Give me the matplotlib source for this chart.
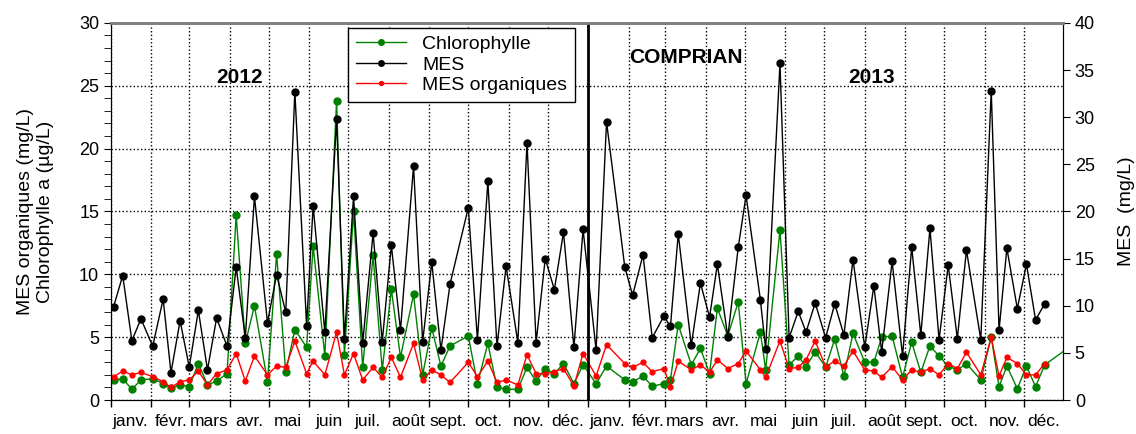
import matplotlib
matplotlib.use('Agg')
import matplotlib.pyplot as plt
import matplotlib.dates as mdates
from matplotlib.ticker import MultipleLocator, FuncFormatter
import pandas as pd

plt.rcParams['font.family'] = ['Liberation Sans', 'DejaVu Sans']

# Sampling dates (weekly-ish), 2012 then 2013
dates_2012 = ['01-03', '01-10', '01-17', '01-24', '02-02', '02-10', '02-16', '02-23',
              '03-01', '03-08', '03-15', '03-22', '03-30', '04-06', '04-13', '04-20',
              '04-30', '05-07', '05-14', '05-21', '05-30', '06-04', '06-13', '06-22',
              '06-28', '07-05', '07-12', '07-20', '07-27', '08-03', '08-10', '08-20',
              '08-27', '09-03', '09-10', '09-17', '10-01', '10-08', '10-16', '10-23',
              '10-30', '11-08', '11-15', '11-22', '11-29', '12-06', '12-13', '12-21',
              '12-28']
dates_2013 = ['01-07', '01-15', '01-29', '02-04', '02-12', '02-19', '02-28', '03-05',
              '03-11', '03-21', '03-28', '04-04', '04-10', '04-18', '04-26', '05-02',
              '05-13', '05-17', '05-28', '06-04', '06-11', '06-17', '06-24', '07-02',
              '07-09', '07-16', '07-23', '08-01', '08-08', '08-14', '08-22', '08-30',
              '09-06', '09-13', '09-20', '09-27', '10-04', '10-11', '10-18', '10-29',
              '11-06', '11-12', '11-18', '11-26', '12-03', '12-10', '12-17']

# MES (mg/L) - right axis
mes = [9.9, 13.2, 6.3, 8.6, 5.7, 10.7, 2.9, 8.4, 3.5, 9.5, 3.2, 8.7, 5.7, 14.1, 6.6, 21.6,
       8.2, 13.3, 9.3, 32.7, 7.9, 20.6, 7.2, 29.8, 6.5, 21.6, 6.0, 17.7, 6.2, 16.4, 7.4, 24.8,
       6.2, 14.6, 5.3, 12.3, 20.4, 6.4, 23.2, 5.7, 14.2, 6.1, 27.3, 6.1, 15.0, 11.7, 17.8, 5.6,
       18.1,
       5.3, 29.5, 14.1, 11.1, 15.4, 6.6, 8.9, 7.8, 17.6, 5.8, 12.4, 8.8, 14.4, 6.7, 16.2, 21.7,
       10.6, 5.4, 35.7, 6.6, 9.4, 7.2, 10.3, 6.6, 10.2, 6.9, 14.9, 5.6, 12.1, 5.1, 14.7, 4.7,
       16.2, 6.9, 18.2, 6.4, 14.3, 6.5, 15.9, 6.4, 32.8, 7.4, 16.1, 9.7, 14.4, 8.5, 10.2]

# Chlorophylle a (ug/L) - left axis, one extra sample early 2014
chl = [1.6, 1.7, 0.85, 1.6, 1.7, 1.3, 0.95, 1.2, 1.06, 2.9, 1.2, 1.5, 2.1, 14.7, 4.5, 7.5,
       1.46, 11.6, 2.2, 5.6, 4.2, 12.25, 3.5, 23.8, 3.6, 15.0, 2.6, 11.5, 2.4, 8.8, 3.4, 8.4,
       2.0, 5.75, 2.7, 4.3, 5.1, 1.3, 4.5, 1.0, 0.85, 0.85, 2.6, 1.5, 2.5, 2.1, 2.9, 1.3,
       2.8,
       1.3, 2.7, 1.6, 1.46, 1.9, 1.1, 1.3, 1.6, 6.0, 2.8, 4.1, 2.1, 7.3, 5.1, 7.8, 1.3,
       5.4, 2.4, 13.5, 2.8, 3.5, 2.65, 3.85, 2.6, 4.85, 1.9, 5.3, 3.0, 3.0, 5.0, 5.1, 1.8,
       4.6, 2.2, 4.3, 3.5, 2.7, 2.4, 2.9, 1.6, 5.0, 1.06, 2.7, 0.9, 2.7, 1.06, 2.8]
chl_extra_date = '2014-01-13'
chl_extra = 4.8

# MES organiques (mg/L) - left axis
mes_org = [1.85, 2.3, 2.0, 2.2, 1.85, 1.46, 1.0, 1.46, 1.6, 2.3, 1.2, 2.1, 2.4, 3.7, 1.5, 3.5,
           2.0, 2.7, 2.6, 4.7, 2.1, 3.1, 2.0, 5.4, 2.0, 3.7, 1.6, 2.6, 1.8, 3.4, 1.8, 4.5,
           1.6, 2.4, 2.0, 1.4, 3.0, 1.85, 3.1, 1.4, 1.6, 1.2, 3.6, 2.1, 2.1, 2.25, 2.5, 1.1,
           3.7,
           1.9, 4.4, 2.9, 2.6, 3.0, 2.25, 2.5, 1.06, 3.1, 2.4, 2.8, 2.2, 3.2, 2.5, 2.9, 3.9,
           2.4, 1.8, 4.7, 2.5, 2.6, 3.2, 4.7, 2.65, 3.1, 2.7, 3.9, 2.4, 2.3, 1.8, 2.65, 1.6,
           2.4, 2.2, 2.5, 2.0, 2.9, 2.5, 3.8, 2.0, 5.0, 1.9, 3.4, 2.9, 2.0, 2.0, 2.9]

mois = ['janv.', 'févr.', 'mars', 'avr.', 'mai', 'juin',
        'juil.', 'août', 'sept.', 'oct.', 'nov.', 'déc.']

dates = pd.to_datetime(['2012-' + d for d in dates_2012] + ['2013-' + d for d in dates_2013])
chl_dates = list(dates) + [pd.Timestamp(chl_extra_date)]
chl_vals = chl + [chl_extra]

fig = plt.figure(figsize=(11.36, 4.34), dpi=100)
ax = fig.add_axes([0.0977, 0.0783, 0.838, 0.869])
ax2 = ax.twinx()

l1, = ax.plot(chl_dates, chl_vals, color='#008000', marker='o', ms=5, lw=1, label='Chlorophylle')
l3, = ax.plot(dates, mes_org, color='#ff0000', marker='o', ms=3.5, lw=1, label='MES organiques')
l2, = ax2.plot(dates, mes, color='black', marker='o', ms=5, lw=1, label='MES')

ax.axvline(pd.Timestamp('2013-01-01'), color='black', lw=2, zorder=5)

ax.set_xlim(pd.Timestamp('2012-01-01'), pd.Timestamp('2013-12-31'))
ax.set_ylim(0, 30)
ax2.set_ylim(0, 40)

# month boundaries as ticks + grid, month names centred in between
ax.xaxis.set_major_locator(mdates.MonthLocator())
ax.xaxis.set_major_formatter(FuncFormatter(lambda x, p: ''))
ax.xaxis.set_minor_locator(mdates.MonthLocator(bymonthday=16))
ax.xaxis.set_minor_formatter(FuncFormatter(lambda x, p: mois[mdates.num2date(x).month - 1]))
ax.tick_params(axis='x', which='major', direction='out', length=5, width=1)
ax.tick_params(axis='x', which='minor', length=0, labelsize=12.5, pad=10)

ax.yaxis.set_major_locator(MultipleLocator(5))
ax.yaxis.set_minor_locator(MultipleLocator(1))
ax.tick_params(axis='y', which='both', direction='out', length=5, labelsize=13)
ax2.yaxis.set_major_locator(MultipleLocator(5))
ax2.tick_params(axis='y', direction='out', length=5, labelsize=13)

ax.grid(True, which='major', axis='both', linestyle=':', color='black', lw=1)

for a in (ax, ax2):
    a.spines['top'].set_color('#808080')
    a.spines['top'].set_linewidth(2)

ax.set_ylabel('MES organiques (mg/L)\nChlorophylle a (µg/L)', fontsize=14, labelpad=18)
ax2.set_ylabel('MES  (mg/L)', fontsize=14, labelpad=17)

ax.text(0.1355, 0.854, '2012', transform=ax.transAxes, ha='center', va='center',
        fontsize=15, fontweight='bold', zorder=6)
ax.text(0.604, 0.907, 'COMPRIAN', transform=ax.transAxes, ha='center', va='center',
        fontsize=15, fontweight='bold', zorder=6)
ax.text(0.799, 0.854, '2013', transform=ax.transAxes, ha='center', va='center',
        fontsize=15, fontweight='bold', zorder=6)

leg = ax2.legend(handles=[l1, l2, l3], loc='upper left', bbox_to_anchor=(0.249, 0.987),
                 borderaxespad=0, fontsize=14, fancybox=False, framealpha=1,
                 edgecolor='black', handlelength=2.6, labelspacing=0.15, markerscale=0.8)
leg.get_frame().set_linewidth(1)

plt.savefig('out.png', dpi=100)
